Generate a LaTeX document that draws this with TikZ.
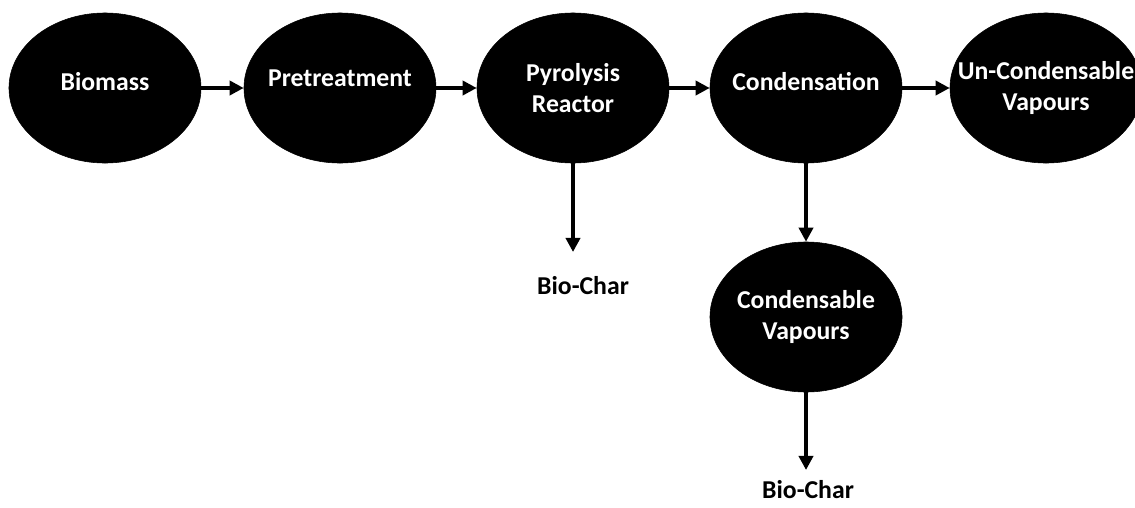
\documentclass[tikz,border=0pt]{standalone}
\usepackage{fontspec}
\setmainfont{Carlito}
\usetikzlibrary{shapes.geometric,arrows.meta}

\tikzset{
  proc/.style={ellipse, fill=black, draw=black, inner sep=0pt,
    minimum width=4.8cm, minimum height=3.75cm},
  txt/.style={font=\bfseries\fontsize{18.3}{21.5}\selectfont, align=center},
  flow/.style={line width=2.6pt, -{Triangle[length=10pt,width=10pt]}}
}

\begin{document}
\begin{tikzpicture}[x=0.025cm,y=-0.025cm]
\useasboundingbox (0,0) rectangle (1135,507);
% main line
\node[proc, label={[txt,text=white,yshift=6*0.025cm]center:Biomass}] (bio) at (105,88) {};
\node[proc, label={[txt,text=white,yshift=10*0.025cm]center:Pretreatment}] (pre) at (340,88) {};
\node[proc, label={[txt,text=white]center:Pyrolysis\\Reactor}] (pyr) at (573,88) {};
\node[proc, label={[txt,text=white,yshift=6*0.025cm]center:Condensation}] (con) at (806,88) {};
\node[proc, label={[txt,text=white]center:Un-Condensable\\Vapours}] (unc) at (1046,88) {};
\node[proc, label={[txt,text=white]center:Condensable\\Vapours}] (cv) at (806,317) {};
% outputs
\coordinate (pyrend) at (573,252);
\node[txt] (char1) at (583,286) {Bio-Char};
\coordinate (cvend) at (806,470);
\node[txt] (char2) at (808,490) {Bio-Char};
% arrows
\draw[flow] (bio) -- (pre);
\draw[flow] (pre) -- (pyr);
\draw[flow] (pyr) -- (con);
\draw[flow] (con) -- (unc);
\draw[flow] (pyr.south) -- (pyrend);
\draw[flow] (con.south) -- (cv.north);
\draw[flow] (cv.south) -- (cvend);
\end{tikzpicture}
\end{document}
